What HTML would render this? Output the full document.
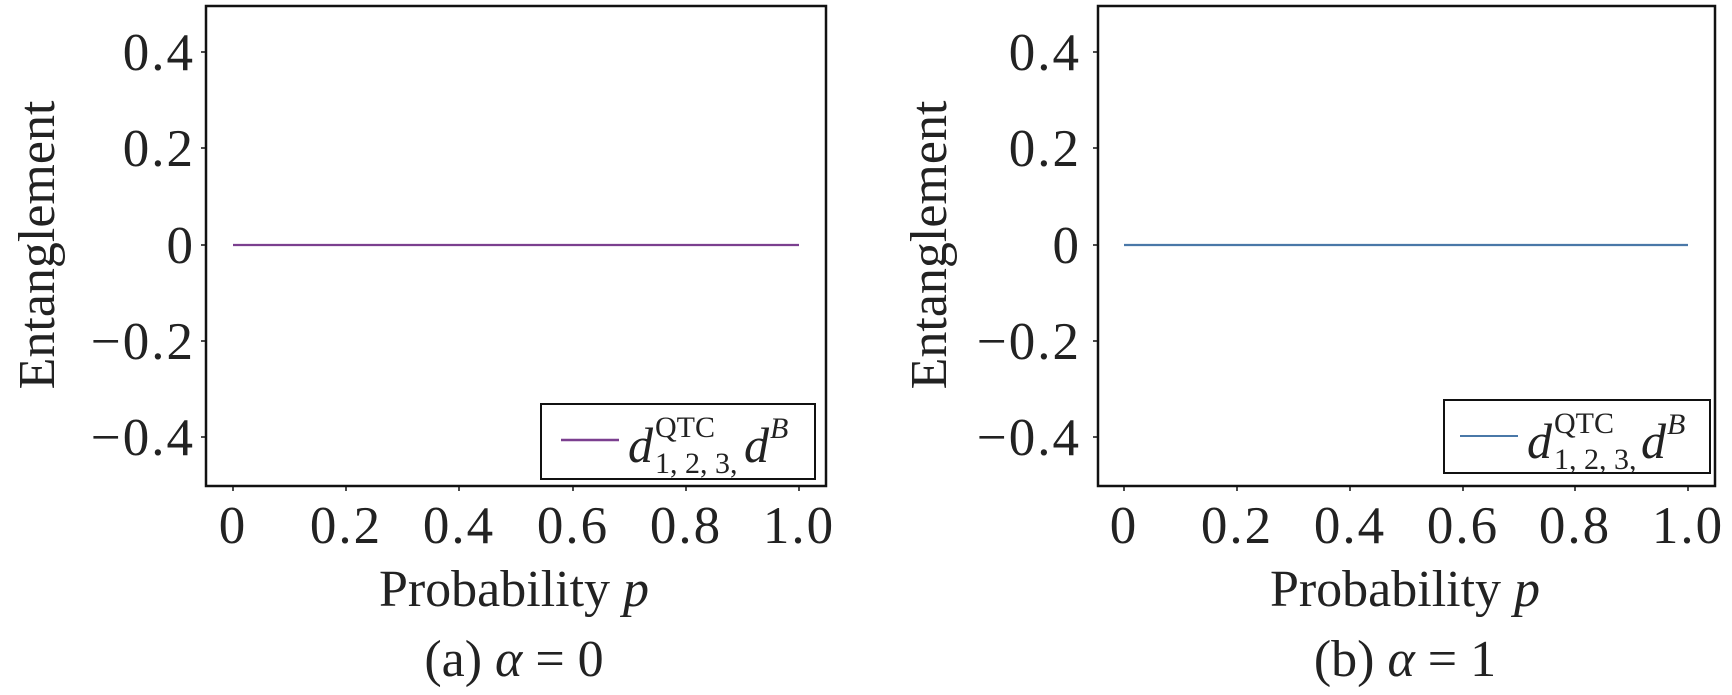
<!DOCTYPE html>
<html><head><meta charset="utf-8"><style>html,body{margin:0;padding:0;background:#fff}</style></head><body>
<svg width="1732" height="690" viewBox="0 0 1732 690" xmlns="http://www.w3.org/2000/svg" font-family="Liberation Serif, serif" fill="#222">
<g id="p1">
<rect x="206" y="6" width="620" height="480" fill="none" stroke="#111" stroke-width="2.5"/>
<g stroke="#111" stroke-width="1.5">
<line x1="201" y1="52" x2="206" y2="52"/><line x1="201" y1="148" x2="206" y2="148"/><line x1="201" y1="245" x2="206" y2="245"/><line x1="201" y1="341" x2="206" y2="341"/><line x1="201" y1="437" x2="206" y2="437"/>
<line x1="233" y1="486" x2="233" y2="491"/><line x1="346" y1="486" x2="346" y2="491"/><line x1="459" y1="486" x2="459" y2="491"/><line x1="573" y1="486" x2="573" y2="491"/><line x1="686" y1="486" x2="686" y2="491"/><line x1="799" y1="486" x2="799" y2="491"/>
</g>
<g font-size="53" text-anchor="end" letter-spacing="2">
<text x="195" y="70">0.4</text><text x="195" y="166">0.2</text><text x="195" y="263">0</text><text x="195" y="359">−0.2</text><text x="195" y="455">−0.4</text>
</g>
<g font-size="53" text-anchor="middle" letter-spacing="2">
<text x="233" y="543">0</text><text x="346" y="543">0.2</text><text x="459" y="543">0.4</text><text x="573" y="543">0.6</text><text x="686" y="543">0.8</text><text x="799" y="543">1.0</text>
</g>
<g font-size="52" text-anchor="middle">
<text x="514" y="606">Probability <tspan font-style="italic">p</tspan></text>
<text x="514" y="676">(a) <tspan font-style="italic">α</tspan> = 0</text>
<text transform="translate(54,245) rotate(-90)">Entanglement</text>
</g>
<line x1="233" y1="245" x2="799" y2="245" stroke="#7b3f8f" stroke-width="2.2"/>
<rect x="541" y="404" width="274" height="75" fill="#fff" stroke="#111" stroke-width="2"/>
<line x1="561" y1="440" x2="619" y2="440" stroke="#7b3f8f" stroke-width="2.5"/>
<text x="628" y="462" font-size="50" font-style="italic">d</text>
<text x="655" y="437" font-size="30">QTC</text>
<text x="655" y="473" font-size="30">1, 2, 3,</text>
<text x="744" y="462" font-size="50" font-style="italic">d</text>
<text x="770" y="438" font-size="30" font-style="italic">B</text>
</g>
<g id="p2">
<rect x="1098" y="6" width="617" height="480" fill="none" stroke="#111" stroke-width="2.5"/>
<g stroke="#111" stroke-width="1.5">
<line x1="1093" y1="52" x2="1098" y2="52"/><line x1="1093" y1="148" x2="1098" y2="148"/><line x1="1093" y1="245" x2="1098" y2="245"/><line x1="1093" y1="341" x2="1098" y2="341"/><line x1="1093" y1="437" x2="1098" y2="437"/>
<line x1="1124" y1="486" x2="1124" y2="491"/><line x1="1237" y1="486" x2="1237" y2="491"/><line x1="1350" y1="486" x2="1350" y2="491"/><line x1="1463" y1="486" x2="1463" y2="491"/><line x1="1575" y1="486" x2="1575" y2="491"/><line x1="1688" y1="486" x2="1688" y2="491"/>
</g>
<g font-size="53" text-anchor="end" letter-spacing="2">
<text x="1081" y="70">0.4</text><text x="1081" y="166">0.2</text><text x="1081" y="263">0</text><text x="1081" y="359">−0.2</text><text x="1081" y="455">−0.4</text>
</g>
<g font-size="53" text-anchor="middle" letter-spacing="2">
<text x="1124" y="543">0</text><text x="1237" y="543">0.2</text><text x="1350" y="543">0.4</text><text x="1463" y="543">0.6</text><text x="1575" y="543">0.8</text><text x="1688" y="543">1.0</text>
</g>
<g font-size="52" text-anchor="middle">
<text x="1405" y="606">Probability <tspan font-style="italic">p</tspan></text>
<text x="1405" y="676">(b) <tspan font-style="italic">α</tspan> = 1</text>
<text transform="translate(946,245) rotate(-90)">Entanglement</text>
</g>
<line x1="1124" y1="245" x2="1688" y2="245" stroke="#4a78a8" stroke-width="2.2"/>
<rect x="1444" y="400" width="266" height="73" fill="#fff" stroke="#111" stroke-width="2"/>
<line x1="1460" y1="436" x2="1518" y2="436" stroke="#4a78a8" stroke-width="2"/>
<text x="1527" y="458" font-size="50" font-style="italic">d</text>
<text x="1554" y="433" font-size="30">QTC</text>
<text x="1554" y="469" font-size="30">1, 2, 3,</text>
<text x="1641" y="458" font-size="50" font-style="italic">d</text>
<text x="1667" y="434" font-size="30" font-style="italic">B</text>
</g>
</svg>
</body></html>
